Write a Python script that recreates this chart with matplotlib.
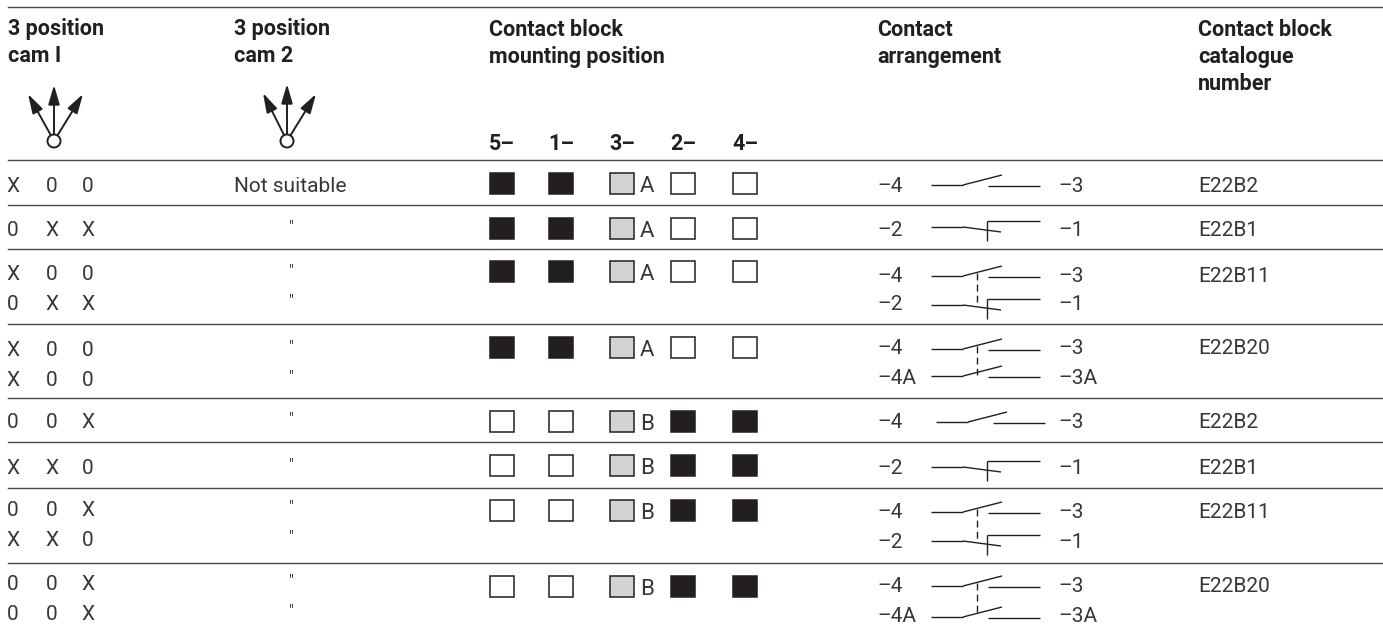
import matplotlib
matplotlib.use('Agg')
from matplotlib import pyplot as plt
from matplotlib.patches import Rectangle, Circle, FancyArrowPatch

# table content
cam1 = [['X 0 0'], ['0 X X'], ['X 0 0', '0 X X'], ['X 0 0', 'X 0 0'],
        ['0 0 X'], ['X X 0'], ['0 0 X', 'X X 0'], ['0 0 X', '0 0 X']]
cam2 = [['Not suitable'], ['"'], ['"', '"'], ['"', '"'],
        ['"'], ['"'], ['"', '"'], ['"', '"']]
blocks = ['BBGWW', 'BBGWW', 'BBGWW', 'BBGWW', 'WWGBB', 'WWGBB', 'WWGBB', 'WWGBB']
block_letter = ['A', 'A', 'A', 'A', 'B', 'B', 'B', 'B']
block_heads = ['5–', '1–', '3–', '2–', '4–']
contacts = [[('–4', 'no', '–3')], [('–2', 'nc', '–1')],
            [('–4', 'no', '–3'), ('–2', 'nc', '–1')],
            [('–4', 'no', '–3'), ('–4A', 'no', '–3A')],
            [('–4', 'no', '–3')], [('–2', 'nc', '–1')],
            [('–4', 'no', '–3'), ('–2', 'nc', '–1')],
            [('–4', 'no', '–3'), ('–4A', 'no', '–3A')]]
catalogue = ['E22B2', 'E22B1', 'E22B11', 'E22B20', 'E22B2', 'E22B1', 'E22B11', 'E22B20']
headers = [['3 position', 'cam I'], ['3 position', 'cam 2'],
           ['Contact block', 'mounting position'], ['Contact', 'arrangement'],
           ['Contact block', 'catalogue', 'number']]

# layout in pixels
W, H = 1383, 633
header_x = [8, 234, 489, 877, 1198]
header_y = [27, 54, 81]
rules = [7, 160, 205, 249, 324, 398, 442, 488, 563]
cam_y = [[184], [228], [272, 302], [348, 378], [421], [466], [509, 538], [583, 613]]
label_y = [[184], [228], [274, 303], [347, 377], [421], [466], [511, 540], [585, 615]]
wire_y = [[185], [227], [276, 305], [349, 376], [422], [467], [512, 541], [586, 617]]
wire_dx = [0, 0, 0, 0, 5, 0, 0, 0]
block_y = [183, 228, 271, 347, 421, 465, 510, 586]
cam1_x = [13, 52, 88]
block_x = [502, 561, 622, 683, 745]
INK = '#231f20'
BODY = ['Roboto', 'Liberation Sans', 'DejaVu Sans']

fig = plt.figure(figsize=(W / 100, H / 100), dpi=100)
ax = fig.add_axes([0, 0, 1, 1])
ax.set_xlim(0, W)
ax.set_ylim(H, 0)
ax.axis('off')


def txt(x, y, s, size=15, weight='normal', ha='left', color='#3a3637'):
    ax.text(x, y, s, fontsize=size, fontweight=weight, ha=ha, va='center_baseline',
            color=color, family=BODY)


def seg(x0, y0, x1, y1, lw=1.0, **kw):
    ax.plot([x0, x1], [y0, y1], color=INK, lw=lw, solid_capstyle='butt', **kw)


def contact(y, kind, dx):
    seg(931 + dx, y, 963 + dx, y)
    if kind == 'no':
        seg(963 + dx, y, 1002 + dx, y - 10)
        seg(988 + dx, y + 1, 1040 + dx, y + 1)
    else:
        seg(963 + dx, y, 1001 + dx, y + 5)
        seg(987 + dx, y - 6, 987 + dx, y + 14)
        seg(987 + dx, y - 6, 1040 + dx, y - 6)


def cam_symbol(x, tips):
    y = 141
    for tx, ty in tips:
        ax.add_patch(FancyArrowPatch((x, y), (tx, ty), arrowstyle='-|>,head_length=6.5,head_width=1.9',
                                     color=INK, lw=1.4, shrinkA=3, shrinkB=0, mutation_scale=1.8))
    ax.add_patch(Circle((x, y), 6.5, fc='white', ec=INK, lw=1.4, zorder=5))


for y in rules:
    ax.plot([8, W], [y, y], color='#4a4748', lw=1.0)

for x, lines in zip(header_x, headers):
    for y, s in zip(header_y, lines):
        txt(x, y, s, size=15.5, weight='bold', color=INK)
for x, s in zip(block_x, block_heads):
    txt(x, 142, s, size=15.5, weight='bold', ha='center', color=INK)

cam_symbol(54, [(28, 94), (54, 85), (83, 94)])
cam_symbol(287, [(263, 93), (287, 84), (316, 94)])

for i in range(len(cam1)):
    for j in range(len(cam1[i])):
        for x, s in zip(cam1_x, cam1[i][j].split()):
            txt(x, cam_y[i][j], s, ha='center')
        if cam2[i][j] == '"':
            txt(291, cam_y[i][j] - 3, cam2[i][j], ha='center', size=11)
        else:
            txt(234, cam_y[i][j], cam2[i][j])
        left, kind, right = contacts[i][j]
        txt(877, label_y[i][j], left)
        contact(wire_y[i][j], kind, wire_dx[i])
        txt(1058, label_y[i][j], right)
    txt(1198, label_y[i][0], catalogue[i])

    yb = block_y[i]
    for x, state in zip(block_x, blocks[i]):
        face = {'B': INK, 'G': '#d1d3d4', 'W': 'white'}[state]
        ax.add_patch(Rectangle((x - 12, yb - 10.5), 24, 21, fc=face, ec=INK, lw=1.1))
    txt(640, yb + 1, block_letter[i], size=16)
    # dashed link between the two contacts of a double row
    if len(wire_y[i]) == 2:
        ax.plot([977, 977], [wire_y[i][0] - 3, wire_y[i][1] - 1], color=INK, lw=1.0, ls=(0, (5, 3)))

fig.savefig('out.png', dpi=100)
